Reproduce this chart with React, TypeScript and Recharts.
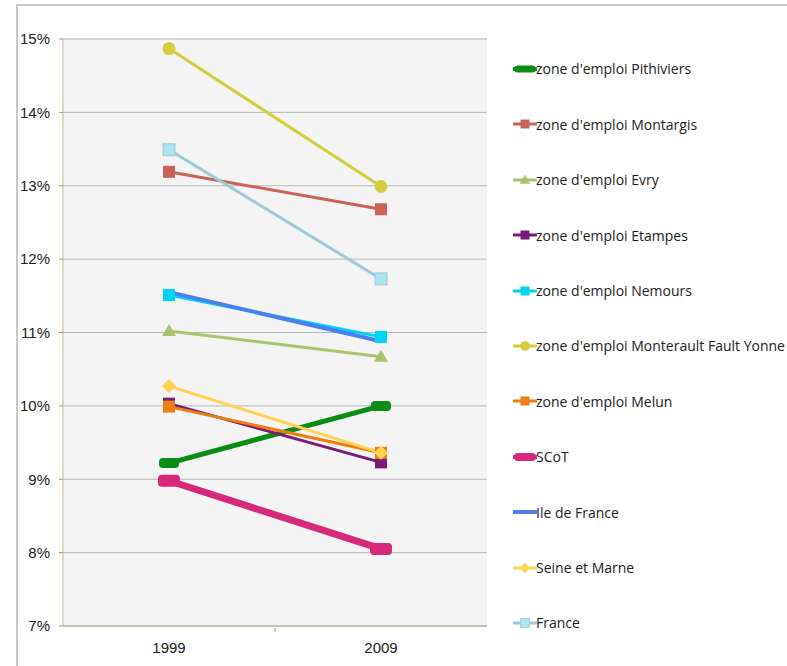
import React from "react"
import {
  LineChart,
  Line,
  XAxis,
  YAxis,
  CartesianGrid,
} from "recharts"

const years = ["1999", "2009"]
const yTicks = [7, 8, 9, 10, 11, 12, 13, 14, 15]

// unemployment rate (%), 1999 / 2009
const pithiviers = [9.22, 10.0]
const montargis = [13.19, 12.68]
const evry = [11.02, 10.67]
const etampes = [10.03, 9.23]
const nemours = [11.51, 10.94]
const monterault = [14.87, 12.99]
const melun = [9.99, 9.36]
const scot = [8.98, 8.05]
const ileDeFrance = [11.55, 10.88]
const seineEtMarne = [10.27, 9.36]
const france = [13.49, 11.73]

type Marker = "pill" | "square" | "triangle" | "circle" | "diamond" | "none"

type Serie = {
  key: string
  name: string
  values: number[]
  color: string
  fill?: string
  width: number
  marker: Marker
}

const series: Serie[] = [
  { key: "pithiviers", name: "zone d'emploi Pithiviers", values: pithiviers, color: "#0b8c12", width: 5, marker: "pill" },
  { key: "montargis", name: "zone d'emploi Montargis", values: montargis, color: "#cc6158", width: 3, marker: "square" },
  { key: "evry", name: "zone d'emploi Evry", values: evry, color: "#a9c46e", width: 3, marker: "triangle" },
  { key: "etampes", name: "zone d'emploi Etampes", values: etampes, color: "#781c78", width: 3, marker: "square" },
  { key: "nemours", name: "zone d'emploi Nemours", values: nemours, color: "#00d4f6", width: 3, marker: "square" },
  { key: "monterault", name: "zone d'emploi Monterault Fault Yonne", values: monterault, color: "#d4cd3e", width: 3, marker: "circle" },
  { key: "melun", name: "zone d'emploi Melun", values: melun, color: "#ef7d12", width: 3, marker: "square" },
  { key: "scot", name: "SCoT", values: scot, color: "#d8287a", width: 7, marker: "pill" },
  { key: "idf", name: "Ile de France", values: ileDeFrance, color: "#4a7ff2", width: 4, marker: "none" },
  { key: "sem", name: "Seine et Marne", values: seineEtMarne, color: "#ffd250", width: 3, marker: "diamond" },
  { key: "france", name: "France", values: france, color: "#9ccad8", fill: "#b0e2f0", width: 3, marker: "square" },
]

const data = years.map((year, i) => {
  const row: Record<string, string | number> = { year }
  series.forEach((s) => {
    row[s.key] = s.values[i]
  })
  return row
})

const CHART_W = 771
const CHART_H = 662
const MARGIN = { top: 35, right: 300, bottom: 10, left: 7 }
const Y_W = 40
const PLOT_W = CHART_W - MARGIN.left - MARGIN.right - Y_W
const HALF_BAND = PLOT_W / years.length / 2

function MarkerShape({ s, cx, cy }: { s: Serie; cx: number; cy: number }) {
  const fill = s.fill || s.color
  switch (s.marker) {
    case "pill": {
      const w = s.width > 5 ? 22 : 20
      const h = s.width > 5 ? 12 : 10
      return <rect x={cx - w / 2} y={cy - h / 2} width={w} height={h} rx={4} fill={fill} />
    }
    case "square":
      return (
        <rect
          x={cx - 6}
          y={cy - 6}
          width={12}
          height={12}
          fill={fill}
          stroke={s.fill ? s.color : "none"}
          strokeWidth={s.fill ? 1 : 0}
        />
      )
    case "triangle":
      return <polygon points={`${cx},${cy - 7} ${cx + 7},${cy + 5} ${cx - 7},${cy + 5}`} fill={fill} />
    case "circle":
      return <circle cx={cx} cy={cy} r={6.5} fill={fill} />
    case "diamond":
      return <polygon points={`${cx},${cy - 7} ${cx + 7},${cy} ${cx},${cy + 7} ${cx - 7},${cy}`} fill={fill} />
    default:
      return null
  }
}

function XTick(props: any) {
  const { x, y, payload, index } = props
  return (
    <g>
      <text
        x={x}
        y={y + 25}
        textAnchor="middle"
        fontSize={15}
        fontFamily="'Liberation Sans', Arial, sans-serif"
        fill="#222"
      >
        {payload.value}
      </text>
      {index === 0 && (
        <line x1={x + HALF_BAND} x2={x + HALF_BAND} y1={y} y2={y + 4} stroke="#999" />
      )}
    </g>
  )
}

function LegendBox() {
  const rowH = 55.4
  return (
    <div
      style={{
        position: "absolute",
        left: 497,
        top: 65 - rowH / 2,
        fontFamily: "'Open Sans', sans-serif",
        fontSize: 14,
        color: "#222",
      }}
    >
      {series.map((s) => (
        <div key={s.key} style={{ height: rowH, display: "flex", alignItems: "center", whiteSpace: "nowrap" }}>
          <svg width={24} height={16} style={{ display: "block" }}>
            <line
              x1={1}
              x2={23}
              y1={8}
              y2={8}
              stroke={s.color}
              strokeWidth={Math.min(s.width, 4)}
              strokeLinecap="round"
            />
            {s.marker !== "none" && s.marker !== "pill" && (
              <g transform="translate(12 8) scale(0.75) translate(-12 -8)">
                <MarkerShape s={s} cx={12} cy={8} />
              </g>
            )}
            {s.marker === "pill" && (
              <rect x={1} y={8 - Math.min(s.width, 6) / 2 - 1} width={22} height={Math.min(s.width, 6) + 2} rx={4} fill={s.color} />
            )}
          </svg>
          <span style={{ marginLeft: -1 }}>{s.name}</span>
        </div>
      ))}
    </div>
  )
}

export default function App() {
  return (
    <div
      style={{
        position: "absolute",
        left: 16,
        top: 4,
        width: CHART_W,
        height: CHART_H,
        borderLeft: "2px solid #c8c8c8",
        borderTop: "2px solid #c8c8c8",
        boxSizing: "border-box",
        background: "#fff",
        overflow: "hidden",
      }}
    >
      <div style={{ position: "absolute", left: -2, top: -2 }}>
        <LineChart width={CHART_W} height={CHART_H} data={data} margin={MARGIN}>
          <CartesianGrid vertical={false} stroke="#b8b8b8" fill="#f4f4f4" />
          <XAxis
            dataKey="year"
            scale="band"
            height={30}
            tickSize={0}
            tickLine={false}
            axisLine={{ stroke: "#b5aa90" }}
            tick={<XTick />}
            interval={0}
          />
          <XAxis
            xAxisId="top"
            orientation="top"
            dataKey="year"
            scale="band"
            height={0}
            tick={false}
            tickLine={false}
            axisLine={{ stroke: "#f2cd5a" }}
          />
          <YAxis
            domain={[7, 15]}
            ticks={yTicks}
            width={Y_W}
            tickFormatter={(v: number) => `${v}%`}
            tickSize={4}
            tickMargin={9}
            tickLine={{ stroke: "#999" }}
            axisLine={{ stroke: "#c9b487" }}
            tick={{ fontSize: 15, fill: "#222", fontFamily: "'Liberation Sans', Arial, sans-serif" }}
            interval={0}
          />
          <YAxis yAxisId="right" orientation="right" domain={[7, 15]} width={0} tick={false} tickLine={false} axisLine={{ stroke: "#f2cd5a" }} />
          {series.map((s) => (
            <Line
              key={s.key}
              dataKey={s.key}
              name={s.name}
              stroke={s.color}
              strokeWidth={s.width}
              isAnimationActive={false}
              activeDot={false}
              dot={(p: any) => <MarkerShape key={`${s.key}-${p.index}`} s={s} cx={p.cx} cy={p.cy} />}
            />
          ))}
        </LineChart>
        <LegendBox />
      </div>
    </div>
  )
}
